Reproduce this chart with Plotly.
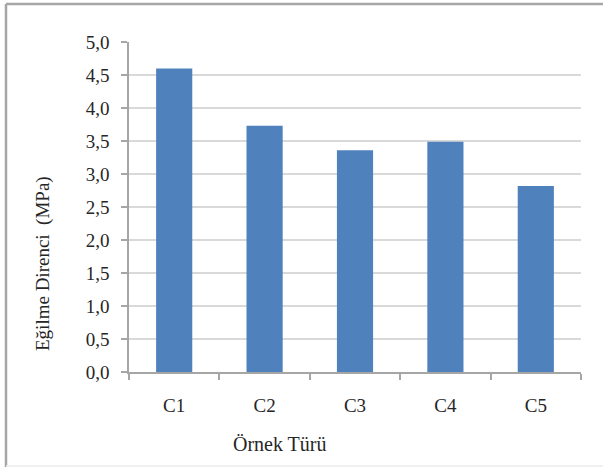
import plotly.graph_objects as go

categories = ["C1", "C2", "C3", "C4", "C5"]
values = [4.60, 3.73, 3.36, 3.49, 2.82]
y_ticks = [0, 0.5, 1.0, 1.5, 2.0, 2.5, 3.0, 3.5, 4.0, 4.5, 5.0]

W, H = 603, 467
L, R, T, B = 129, 22, 42, 95
pw, ph = W - L - R, H - T - B

def px_x(x):
    return (x - L) / pw

def px_y(y):
    return (H - B - y) / ph

serif = "Liberation Serif, Times New Roman, DejaVu Serif, serif"
text_col = "#262626"

fig = go.Figure(
    go.Bar(
        x=categories,
        y=values,
        width=0.4,
        marker=dict(color="#4F81BD", line=dict(width=0)),
    )
)

fig.update_layout(
    width=W,
    height=H,
    margin=dict(l=L, r=R, t=T, b=B),
    paper_bgcolor="white",
    plot_bgcolor="white",
    separators=", ",
    showlegend=False,
    font=dict(family=serif, color=text_col, size=19),
    xaxis=dict(
        showline=True,
        linecolor="#A6A6A6",
        linewidth=1.5,
        ticks="outside",
        ticklen=6,
        tickcolor="#A6A6A6",
        tickwidth=1.5,
        tickson="boundaries",
        showgrid=False,
        ticklabelstandoff=15,
        tickfont=dict(family=serif, size=19, color=text_col),
    ),
    yaxis=dict(
        range=[0, 5],
        tickvals=y_ticks,
        tickformat=".1f",
        showline=True,
        linecolor="#A6A6A6",
        linewidth=1.5,
        ticks="outside",
        ticklen=6,
        tickcolor="#A6A6A6",
        tickwidth=1.5,
        showgrid=True,
        gridcolor="#D9D9D9",
        gridwidth=1.5,
        zeroline=False,
        ticklabelstandoff=8,
        tickfont=dict(family=serif, size=19, color=text_col),
    ),
    annotations=[
        dict(
            text="Örnek Türü",
            xref="paper", yref="paper",
            x=px_x(280), y=px_y(444),
            xanchor="center", yanchor="middle",
            showarrow=False,
            font=dict(family=serif, size=20, color=text_col),
        ),
        dict(
            text="Eğilme Direnci  (MPa)",
            xref="paper", yref="paper",
            x=px_x(43), y=px_y(264),
            xanchor="center", yanchor="middle",
            textangle=-90,
            showarrow=False,
            font=dict(family=serif, size=19, color=text_col),
        ),
    ],
    shapes=[
        # frame: left and top edges, faint bottom edge
        dict(
            type="line", xref="paper", yref="paper",
            x0=px_x(6), x1=px_x(6), y0=px_y(467), y1=px_y(4),
            line=dict(color="#A6A6A6", width=2.5),
        ),
        dict(
            type="line", xref="paper", yref="paper",
            x0=px_x(6), x1=px_x(603), y0=px_y(4), y1=px_y(4),
            line=dict(color="#A6A6A6", width=2.5),
        ),
        dict(
            type="line", xref="paper", yref="paper",
            x0=px_x(6), x1=px_x(603), y0=px_y(466), y1=px_y(466),
            line=dict(color="#EDEDED", width=1.5),
        ),
    ],
)

fig.write_html("out.html")
